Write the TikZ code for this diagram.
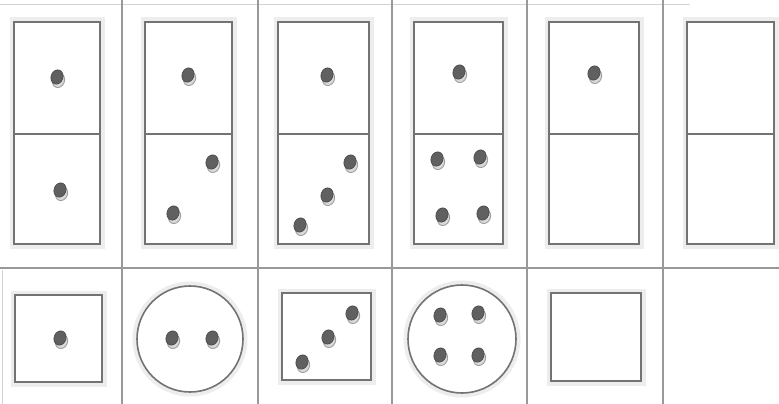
\documentclass[tikz,border=0pt]{standalone}
\begin{document}
\begin{tikzpicture}[x=1pt,y=-1pt,
  gridline/.style={draw=gray!80, line width=1.3pt},
  faintline/.style={draw=gray!35, line width=1pt},
  halo/.style={draw=gray!14, line width=9pt},
  shapeline/.style={draw=gray!90!black, line width=1.6pt, fill=white},
  pipring/.style={draw=gray!75, fill=gray!30, line width=0.9pt},
  pipcore/.style={fill=gray!75!black, draw=gray!55!black, line width=0.6pt}]
\useasboundingbox (0,0) rectangle (779,404);
\fill[white] (0,0) rectangle (779,404);
% grid
\draw[faintline] (0,5) -- (690,5);
\draw[faintline] (2,270) -- (2,404);
\draw[gridline] (0,268) -- (779,268);
\foreach \gx in {122,258,392,527,663} \draw[gridline] (\gx,0) -- (\gx,404);
% dominoes
\foreach \dx/\dw in {14/86,145/87,278/91,414/89,549/90,687/87}{
  \draw[halo] (\dx,22) rectangle ++(\dw,222);
  \draw[shapeline] (\dx,22) rectangle ++(\dw,222);
  \draw[shapeline] (\dx,134) -- ++(\dw,0);
}
% bottom shapes
\draw[halo] (15,295) rectangle (102,382);
\draw[shapeline] (15,295) rectangle (102,382);
\draw[halo] (190,339) circle (53);
\draw[shapeline] (190,339) circle (53);
\draw[halo] (282,293) rectangle (371,380);
\draw[shapeline] (282,293) rectangle (371,380);
\draw[halo] (462,339) circle (54);
\draw[shapeline] (462,339) circle (54);
\draw[halo] (551,293) rectangle (641,381);
\draw[shapeline] (551,293) rectangle (641,381);
% pips
\foreach \px/\py in {57/77,60/190,188/75,212/162,173/213,327/75,350/162,327/195,300/225,
  459/72,437/159,480/157,442/215,483/213,594/73,
  60/338,172/338,212/338,352/313,328/337,302/362,440/315,478/313,440/355,478/355}{
  \draw[pipring, rotate around={-20:(\px+1.5,\py+3.5)}] (\px+1.5,\py+3.5) ellipse (6 and 7.2);
  \draw[pipcore, rotate around={-20:(\px,\py)}] (\px,\py) ellipse (6 and 7.3);
}
\end{tikzpicture}
\end{document}
